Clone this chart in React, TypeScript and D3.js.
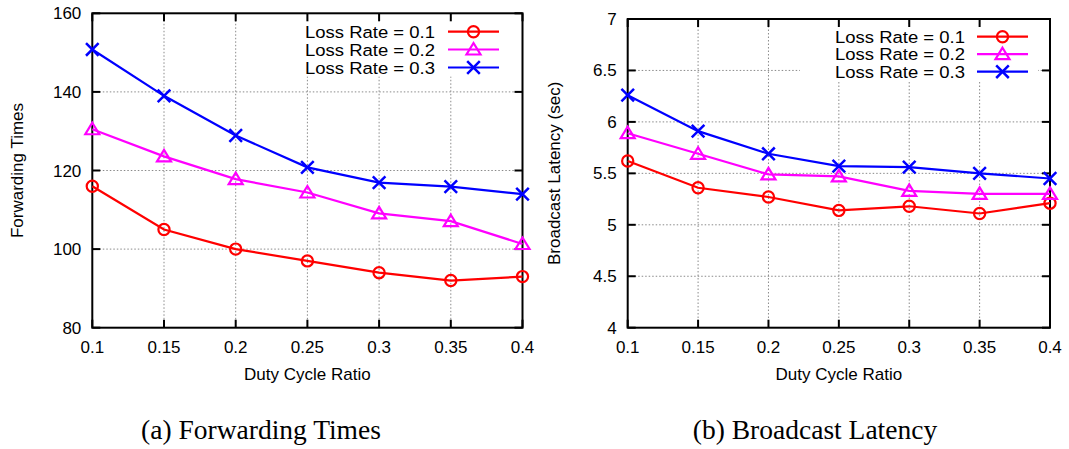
import React from "react";
import * as d3 from "d3";

const dutyCycle = [0.1, 0.15, 0.2, 0.25, 0.3, 0.35, 0.4];
const xTicks = [0.1, 0.15, 0.2, 0.25, 0.3, 0.35, 0.4];
const seriesNames = ["Loss Rate = 0.1", "Loss Rate = 0.2", "Loss Rate = 0.3"];

const fwdLoss01 = [116, 105, 100, 97, 94, 92, 93];
const fwdLoss02 = [130.5, 123.6, 117.8, 114.4, 109.1, 107.1, 101.3];
const fwdLoss03 = [150.8, 139, 128.9, 120.8, 116.9, 115.9, 114];
const fwdTicks = [80, 100, 120, 140, 160];

const latLoss01 = [5.62, 5.36, 5.27, 5.14, 5.18, 5.11, 5.21];
const latLoss02 = [5.89, 5.69, 5.49, 5.47, 5.33, 5.3, 5.3];
const latLoss03 = [6.26, 5.91, 5.69, 5.57, 5.56, 5.5, 5.45];
const latTicks = [4, 4.5, 5, 5.5, 6, 6.5, 7];

const colors = ["#ff0000", "#ff00ff", "#0000ff"];
const markers = ["circle", "triangle", "cross"];
const FONT = "'Liberation Sans', Arial, sans-serif";
const SERIF = "'Liberation Serif', 'Times New Roman', serif";

function Marker({ type, x, y, color }: { type: string; x: number; y: number; color: string }) {
  const sw = 2.2;
  if (type === "circle") return <circle cx={x} cy={y} r={5.6} fill="none" stroke={color} strokeWidth={sw} />;
  if (type === "triangle") {
    const h = 6.5;
    const p = `${x},${y - h} ${x + 7},${y + 5} ${x - 7},${y + 5}`;
    return <polygon points={p} fill="none" stroke={color} strokeWidth={sw} strokeLinejoin="miter" />;
  }
  const s = 6.3;
  return (
    <path d={`M${x - s},${y - s}L${x + s},${y + s}M${x - s},${y + s}L${x + s},${y - s}`} stroke={color} strokeWidth={sw + 0.3} fill="none" />
  );
}

interface PanelProps {
  left: number; right: number; top: number; bottom: number;
  yDomain: [number, number]; yTicks: number[]; yFmt: (v: number) => string;
  series: number[][]; yTitle: string; yTitleX: number;
  legendTextEnd: number; legendLine: [number, number]; legendRows: number[];
  caption: string; captionX: number;
}

function Panel(p: PanelProps) {
  const x = d3.scaleLinear().domain([0.1, 0.4]).range([p.left, p.right]);
  const y = d3.scaleLinear().domain(p.yDomain).range([p.bottom, p.top]);
  const line = d3.line<number>().x((_, i) => x(dutyCycle[i])).y((d) => y(d));
  const tick = 8;
  const boxL = p.legendTextEnd - 165;
  const boxR = p.legendLine[1] + 10;
  const boxT = p.legendRows[0] - 11;
  const boxB = p.legendRows[2] + 9;
  const midX = (p.left + p.right) / 2;
  const midY = (p.top + p.bottom) / 2;
  return (
    <g>
      {/* grid */}
      {xTicks.slice(1, -1).map((t) => (
        <line key={"gx" + t} x1={x(t)} x2={x(t)} y1={p.top} y2={p.bottom} stroke="#8a8a8a" strokeWidth={1} strokeDasharray="1.5,2" />
      ))}
      {p.yTicks.slice(1, -1).map((t) => (
        <line key={"gy" + t} x1={p.left} x2={p.right} y1={y(t)} y2={y(t)} stroke="#8a8a8a" strokeWidth={1} strokeDasharray="1.5,2" />
      ))}
      {/* legend background */}
      <rect x={boxL} y={boxT} width={boxR - boxL} height={boxB - boxT} fill="#fff" />
      {/* ticks */}
      {xTicks.map((t) => (
        <g key={"tx" + t}>
          <line x1={x(t)} x2={x(t)} y1={p.bottom} y2={p.bottom - tick} stroke="#000" strokeWidth={2} />
          <line x1={x(t)} x2={x(t)} y1={p.top} y2={p.top + tick} stroke="#000" strokeWidth={2} />
          <text x={x(t)} y={p.bottom + 25} textAnchor="middle" fontFamily={FONT} fontSize={17}>{String(t)}</text>
        </g>
      ))}
      {p.yTicks.map((t) => (
        <g key={"ty" + t}>
          <line x1={p.left} x2={p.left + tick} y1={y(t)} y2={y(t)} stroke="#000" strokeWidth={2} />
          <line x1={p.right} x2={p.right - tick} y1={y(t)} y2={y(t)} stroke="#000" strokeWidth={2} />
          <text x={p.left - 11} y={y(t) + 6} textAnchor="end" fontFamily={FONT} fontSize={17}>{p.yFmt(t)}</text>
        </g>
      ))}
      <rect x={p.left} y={p.top} width={p.right - p.left} height={p.bottom - p.top} fill="none" stroke="#000" strokeWidth={2} />
      {/* series */}
      {p.series.map((s, si) => (
        <g key={"s" + si}>
          <path d={line(s) || ""} fill="none" stroke={colors[si]} strokeWidth={2.2} />
          {s.map((v, i) => (
            <Marker key={i} type={markers[si]} x={x(dutyCycle[i])} y={y(v)} color={colors[si]} />
          ))}
        </g>
      ))}
      {/* legend */}
      {seriesNames.map((n, i) => (
        <g key={"l" + i}>
          <text transform={`translate(${p.legendTextEnd},${p.legendRows[i] + 6}) scale(1.088,1)`} textAnchor="end" fontFamily={FONT} fontSize={17}>{n}</text>
          <line x1={p.legendLine[0]} x2={p.legendLine[1]} y1={p.legendRows[i]} y2={p.legendRows[i]} stroke={colors[i]} strokeWidth={2.2} />
          <Marker type={markers[i]} x={(p.legendLine[0] + p.legendLine[1]) / 2} y={p.legendRows[i]} color={colors[i]} />
        </g>
      ))}
      {/* titles */}
      <text x={midX} y={p.bottom + 52} textAnchor="middle" fontFamily={FONT} fontSize={17}>Duty Cycle Ratio</text>
      <text transform={`translate(${p.yTitleX},${midY}) rotate(-90)`} textAnchor="middle" fontFamily={FONT} fontSize={17}>{p.yTitle}</text>
      <text x={p.captionX} y={439} textAnchor="middle" fontFamily={SERIF} fontSize={27.5}>{p.caption}</text>
    </g>
  );
}

export default function App() {
  return (
    <svg width={1069} height={449} style={{ position: "absolute", left: 0, top: 0, background: "#fff" }}>
      <rect width={1069} height={449} fill="#fff" />
      <Panel
        left={92.3} right={522.5} top={13.3} bottom={327.7}
        yDomain={[80, 160]} yTicks={fwdTicks} yFmt={(v) => String(v)}
        series={[fwdLoss01, fwdLoss02, fwdLoss03]}
        yTitle="Forwarding Times" yTitleX={23}
        legendTextEnd={435} legendLine={[448, 499]} legendRows={[31.7, 49.5, 67.5]}
        caption="(a) Forwarding Times" captionX={261}
      />
      <Panel
        left={627.7} right={1050} top={19} bottom={327.7}
        yDomain={[4, 7]} yTicks={latTicks} yFmt={(v) => String(v)}
        series={[latLoss01, latLoss02, latLoss03]}
        yTitle="Broadcast Latency (sec)" yTitleX={560}
        legendTextEnd={965} legendLine={[977, 1028]} legendRows={[36.7, 54.2, 71.7]}
        caption="(b) Broadcast Latency" captionX={815}
      />
    </svg>
  );
}
